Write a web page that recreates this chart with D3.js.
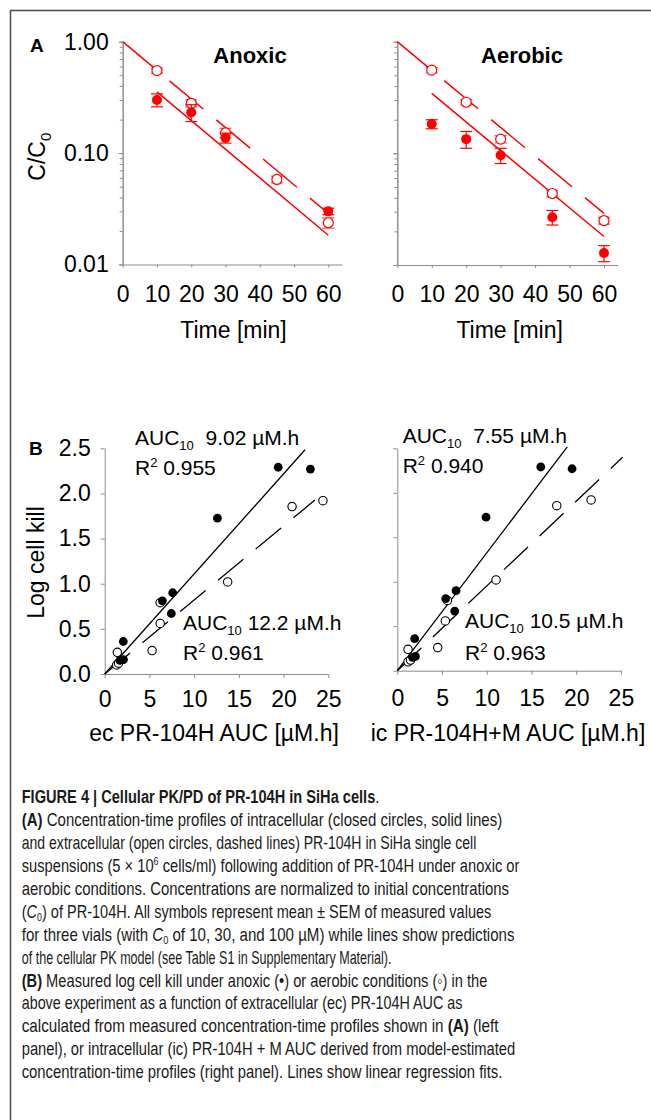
<!DOCTYPE html>
<html>
<head>
<meta charset="utf-8">
<script src="https://cdn.jsdelivr.net/npm/d3@7"></script>
<style>
  body { margin: 0; background: #fff; }
  svg { display: block; font-family: "Liberation Sans", Arial, sans-serif; }
  .pre { white-space: pre; }
</style>
</head>
<body>
<svg width="651" height="1120"></svg>
<script>
// ---- panel A: C/C0 vs time (mean, SEM) ----
const times = [10, 20, 30, 45, 60];
const anoxicIc = [0.30, 0.232, 0.137, null, 0.030];
const anoxicIcSem = [0.04, 0.04, 0.014, null, 0.002];
const anoxicEc = [0.55, 0.28, 0.152, 0.058, 0.0237];
const anoxicEcSem = [0.03, 0.02, 0.015, 0.004, 0.0025];
const aerobicIc = [0.183, 0.134, 0.096, 0.0268, 0.0128];
const aerobicIcSem = [0.017, 0.023, 0.015, 0.004, 0.0021];
const aerobicEc = [0.556, 0.287, 0.134, 0.0437, 0.025];
const aerobicEcSem = [0.03, 0.015, 0.01, 0.003, 0.0018];

// model predictions (straight on the log axis, given by their end points)
const icFitTimes = [10, 60];
const ecFitTimes = [0, 60];
const anoxicIcFit = [0.355, 0.0183];
const anoxicEcFit = [1.0, 0.0287];
const aerobicIcFit = [0.344, 0.018];
const aerobicEcFit = [1.0, 0.029];

const timeTicks = [0, 10, 20, 30, 40, 50, 60];
const ratioTicks = [0.01, 0.1, 1];

// ---- panel B: log cell kill vs AUC ----
const killAnoxic = [2.29, 2.27, 1.726, 0.90, 0.81, 0.67, 0.36, 0.16, 0.15];
const killAerobic = [1.92, 1.855, 1.02, 0.79, 0.56, 0.26, 0.24, 0.10, 0.12];
const ecAucAnoxic = [19.4, 23.0, 12.6, 7.6, 6.45, 7.45, 2.08, 2.1, 1.7];
const ecAucAerobic = [24.4, 20.95, 13.75, 6.2, 6.2, 5.3, 1.41, 1.34, 1.55];
const icAucAnoxic = [16.04, 19.54, 9.92, 6.57, 5.41, 6.42, 1.94, 2.02, 1.7];
const icAucAerobic = [21.67, 17.83, 11.04, 5.6, 5.37, 4.52, 1.2, 1.2, 1.48];

// regression fits: AUC10 (AUC giving 1 log kill), R2, x extent of line
const ecAuc10 = [9.02, 12.2];
const ecR2 = ["0.955", "0.961"];
const ecFitEnd = [22.4, 23.5];
const icAuc10 = [7.55, 10.5];
const icR2 = ["0.940", "0.963"];
const icFitEnd = [19.0, 25.2];

const aucTicks = [0, 5, 10, 15, 20, 25];
const killTicks = [0, 0.5, 1.0, 1.5, 2.0, 2.5];

const captionLines = [
  [["FIGURE 4 | Cellular PK/PD of PR-104H in SiHa cells", "b"], [".", ""]],
  [["(A)", "b"], [" Concentration-time profiles of intracellular (closed circles, solid lines)", ""]],
  [["and extracellular (open circles, dashed lines) PR-104H in SiHa single cell", ""]],
  [["suspensions (5 × 10", ""], ["6", "sup"], [" cells/ml) following addition of PR-104H under anoxic or", ""]],
  [["aerobic conditions. Concentrations are normalized to initial concentrations", ""]],
  [["(", ""], ["C", "i"], ["0", "sub"], [") of PR-104H. All symbols represent mean ± SEM of measured values", ""]],
  [["for three vials (with ", ""], ["C", "i"], ["0", "sub"], [" of 10, 30, and 100 µM) while lines show predictions", ""]],
  [["of the cellular PK model (see Table S1 in Supplementary Material).", ""]],
  [["(B)", "b"], [" Measured log cell kill under anoxic (•) or aerobic conditions (◦) in the", ""]],
  [["above experiment as a function of extracellular (ec) PR-104H AUC as", ""]],
  [["calculated from measured concentration-time profiles shown in ", ""], ["(A)", "b"], [" (left", ""]],
  [["panel), or intracellular (ic) PR-104H + M AUC derived from model-estimated", ""]],
  [["concentration-time profiles (right panel). Lines show linear regression fits.", ""]]
];
const captionWidths = [358, 481, 455, 498, 488, 470, 493, 370, 466, 441, 477, 494, 481];

const red = "#ff0000";
const axisGrey = "#8c8c8c";

const svg = d3.select("svg");

// figure frame (top and left edges)
svg.append("path")
  .attr("d", "M10.5,1120V10.5H651")
  .attr("fill", "none")
  .attr("stroke", "#4a4a4a")
  .attr("stroke-width", 1.5);

function styleAxis(g, fontSize) {
  g.select(".domain").attr("stroke", axisGrey);
  g.selectAll(".tick line").attr("stroke", axisGrey);
  g.selectAll(".tick text")
    .attr("fill", "#000")
    .attr("font-size", fontSize)
    .attr("font-family", "Liberation Sans, Arial, sans-serif");
}

// ---------- panel A ----------
function decayPanel(opt) {
  const x = d3.scaleLinear().domain([0, 64]).range([opt.x0, opt.x0 + 64 * opt.pxPerMin]);
  const y = d3.scaleLog().domain([0.01, 1]).range([opt.yBottom, 41.7]);
  const g = svg.append("g");

  // minor ticks on the log axis
  g.append("g")
    .attr("transform", `translate(${x(0)},0)`)
    .call(d3.axisLeft(y).tickValues(y.ticks()).tickSize(3).tickSizeOuter(0).tickFormat(""))
    .call(a => styleAxis(a, 23));

  g.append("g")
    .attr("transform", `translate(${x(0)},0)`)
    .call(d3.axisLeft(y).tickValues(ratioTicks).tickSize(4).tickSizeOuter(0).tickPadding(10)
      .tickFormat(opt.yLabels ? d3.format(".2f") : ""))
    .call(a => styleAxis(a, 23));

  g.append("g")
    .attr("transform", `translate(0,${opt.yBottom})`)
    .call(d3.axisBottom(x).tickValues(timeTicks).tickSize(3).tickSizeOuter(0).tickPadding(18))
    .call(a => styleAxis(a, 23));

  g.append("text")
    .attr("x", x(timeTicks[3]) + opt.xLabelShift)
    .attr("y", 338)
    .attr("text-anchor", "middle")
    .attr("font-size", 23)
    .text("Time [min]");

  g.append("text")
    .attr("x", opt.titleX)
    .attr("y", 62.7)
    .attr("text-anchor", "middle")
    .attr("font-size", 22)
    .attr("font-weight", "bold")
    .text(opt.title);

  const line = d3.line().x(d => x(d[0])).y(d => y(d[1]));
  g.append("path")
    .attr("d", line(d3.zip(ecFitTimes, opt.ecFit)))
    .attr("fill", "none").attr("stroke", red).attr("stroke-width", 1.5)
    .attr("stroke-dasharray", "44,17");
  g.append("path")
    .attr("d", line(d3.zip(icFitTimes, opt.icFit)))
    .attr("fill", "none").attr("stroke", red).attr("stroke-width", 1.5);

  const series = [
    { v: opt.ec, s: opt.ecSem, open: true },
    { v: opt.ic, s: opt.icSem, open: false }
  ];
  series.forEach(sr => {
    const pts = times.map((t, i) => ({ t, v: sr.v[i], s: sr.s[i] })).filter(d => d.v != null);
    const eb = g.append("g").attr("stroke", red).attr("stroke-width", 1.2)
      .attr("stroke-opacity", sr.open ? 0.7 : 1);
    eb.selectAll("line.v").data(pts).join("line").attr("class", "v")
      .attr("x1", d => x(d.t)).attr("x2", d => x(d.t))
      .attr("y1", d => y(d.v + d.s)).attr("y2", d => y(d.v - d.s));
    eb.selectAll("line.hi").data(pts).join("line").attr("class", "hi")
      .attr("x1", d => x(d.t) - 6).attr("x2", d => x(d.t) + 6)
      .attr("y1", d => y(d.v + d.s)).attr("y2", d => y(d.v + d.s));
    eb.selectAll("line.lo").data(pts).join("line").attr("class", "lo")
      .attr("x1", d => x(d.t) - 6).attr("x2", d => x(d.t) + 6)
      .attr("y1", d => y(d.v - d.s)).attr("y2", d => y(d.v - d.s));
    g.selectAll(null).data(pts).join("circle")
      .attr("cx", d => x(d.t)).attr("cy", d => y(d.v))
      .attr("r", 5)
      .attr("fill", sr.open ? "#fff" : red)
      .attr("stroke", red).attr("stroke-width", sr.open ? 1.2 : 0);
  });
}

decayPanel({
  x0: 122.7, pxPerMin: 3.427, yBottom: 264.5, yLabels: true, xLabelShift: 8,
  title: "Anoxic", titleX: 250,
  ic: anoxicIc, icSem: anoxicIcSem, ec: anoxicEc, ecSem: anoxicEcSem,
  icFit: anoxicIcFit, ecFit: anoxicEcFit
});
decayPanel({
  x0: 397.3, pxPerMin: 3.445, yBottom: 265, yLabels: false, xLabelShift: 9,
  title: "Aerobic", titleX: 522,
  ic: aerobicIc, icSem: aerobicIcSem, ec: aerobicEc, ecSem: aerobicEcSem,
  icFit: aerobicIcFit, ecFit: aerobicEcFit
});

svg.append("text").attr("x", 30).attr("y", 51.7)
  .attr("font-size", 19).attr("font-weight", "bold").text("A");

const yLabA = svg.append("text")
  .attr("transform", "translate(45,156.7) rotate(-90)")
  .attr("text-anchor", "middle")
  .attr("font-size", 23);
yLabA.append("tspan").text("C/C");
yLabA.append("tspan").attr("font-size", 15).attr("dy", 6).text("0");

// ---------- panel B ----------
function killPanel(opt) {
  const x = d3.scaleLinear().domain([0, 25]).range([opt.x0, opt.x0 + 223.6]);
  const y = d3.scaleLinear().domain([0, 2.5]).range([opt.y0, 448.3]);
  const g = svg.append("g");

  g.append("g")
    .attr("transform", `translate(${x(0)},0)`)
    .call(d3.axisLeft(y).tickValues(killTicks).tickSize(4).tickSizeOuter(0).tickPadding(10)
      .tickFormat(opt.yLabels ? d3.format(".1f") : ""))
    .call(a => styleAxis(a, 23));

  g.append("g")
    .attr("transform", `translate(0,${opt.y0})`)
    .call(d3.axisBottom(x).tickValues(aucTicks).tickSize(4).tickSizeOuter(0).tickPadding(opt.xPad))
    .call(a => styleAxis(a, 23));

  g.append("text")
    .attr("x", opt.labelX).attr("y", 741)
    .attr("text-anchor", "middle").attr("font-size", 23)
    .text(opt.xLabel);

  const fits = [
    { a: opt.auc10[0], end: opt.fitEnd[0], dash: null },
    { a: opt.auc10[1], end: opt.fitEnd[1], dash: "33,16" }
  ];
  g.selectAll(null).data(fits).join("line")
    .attr("x1", x(0)).attr("y1", y(0))
    .attr("x2", d => x(d.end)).attr("y2", d => y(d.end / d.a))
    .attr("stroke", "#000").attr("stroke-width", 1.3)
    .attr("stroke-dasharray", d => d.dash);

  g.selectAll(null).data(d3.zip(opt.aucAerobic, killAerobic)).join("circle")
    .attr("cx", d => x(d[0])).attr("cy", d => y(d[1])).attr("r", 4.2)
    .attr("fill", "#fff").attr("stroke", "#000").attr("stroke-width", 1.1);
  g.selectAll(null).data(d3.zip(opt.aucAnoxic, killAnoxic)).join("circle")
    .attr("cx", d => x(d[0])).attr("cy", d => y(d[1])).attr("r", 4.4)
    .attr("fill", "#000");

  opt.notes.forEach((n, i) => {
    const t1 = g.append("text").attr("class", "pre")
      .attr("x", n[0]).attr("y", n[1]).attr("font-size", 21);
    t1.append("tspan").text("AUC");
    t1.append("tspan").attr("font-size", 13).attr("dy", 5).text("10");
    t1.append("tspan").attr("dy", -5).text((i === 0 ? "  " : " ") + d3.format(".3")(opt.auc10[i]) + " µM.h");
    const t2 = g.append("text").attr("class", "pre")
      .attr("x", n[0]).attr("y", n[2]).attr("font-size", 21);
    t2.append("tspan").text("R");
    t2.append("tspan").attr("font-size", 13).attr("dy", -8).text("2");
    t2.append("tspan").attr("dy", 8).text(" " + opt.r2[i]);
  });
}

killPanel({
  x0: 104.7, y0: 674, yLabels: true, xPad: 13,
  xLabel: "ec PR-104H AUC [µM.h]", labelX: 214,
  aucAnoxic: ecAucAnoxic, aucAerobic: ecAucAerobic,
  auc10: ecAuc10, r2: ecR2, fitEnd: ecFitEnd,
  notes: [[135, 445, 475], [183, 630, 660]]
});
killPanel({
  x0: 397.3, y0: 670.7, yLabels: false, xPad: 15,
  xLabel: "ic PR-104H+M AUC [µM.h]", labelX: 508,
  aucAnoxic: icAucAnoxic, aucAerobic: icAucAerobic,
  auc10: icAuc10, r2: icR2, fitEnd: icFitEnd,
  notes: [[402.7, 443, 473], [465, 628, 660]]
});

svg.append("text").attr("x", 29).attr("y", 455)
  .attr("font-size", 19).attr("font-weight", "bold").text("B");

svg.append("text")
  .attr("transform", "translate(44,562.5) rotate(-90)")
  .attr("text-anchor", "middle")
  .attr("font-size", 23)
  .text("Log cell kill");

// ---------- caption ----------
captionLines.forEach((segs, i) => {
  const t = svg.append("text").attr("class", "pre")
    .attr("font-size", 18).attr("fill", "#1a1a1a");
  let shift = 0;
  segs.forEach(([str, kind]) => {
    const sp = t.append("tspan").text(str);
    let dy = -shift;
    if (kind === "b") sp.attr("font-weight", "bold");
    if (kind === "i") sp.attr("font-style", "italic");
    if (kind === "sub") { sp.attr("font-size", 11); dy += 3; shift = 3; }
    else if (kind === "sup") { sp.attr("font-size", 11); dy += -7; shift = -7; }
    else shift = 0;
    if (dy !== 0) sp.attr("dy", dy);
  });
  const len = t.node().getComputedTextLength();
  t.attr("transform", `translate(21.7,${803.3 + i * 22.9}) scale(${captionWidths[i] / len},1)`);
});
</script>
</body>
</html>
